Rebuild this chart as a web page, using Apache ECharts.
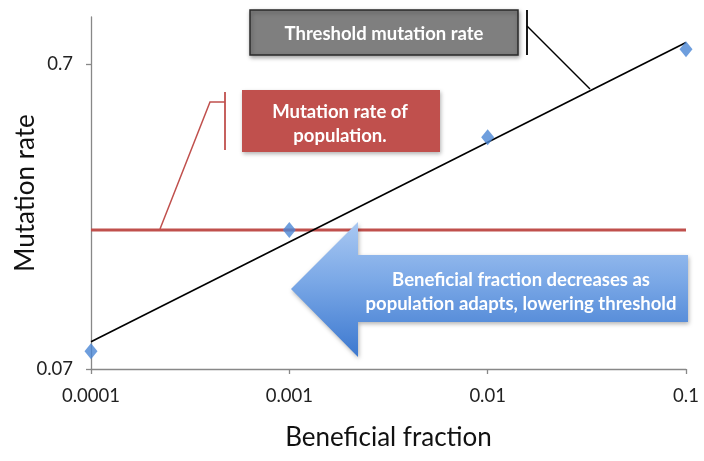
<!DOCTYPE html>
<html>
<head>
<meta charset="utf-8">
<script src="https://cdn.jsdelivr.net/npm/echarts@6/dist/echarts.min.js"></script>
<style>html,body{margin:0;padding:0;background:#fff}#c{width:704px;height:461px}</style>
</head>
<body>
<div id="c"></div>
<script>
// Data
var xTicks = [0.0001, 0.001, 0.01, 0.1];
var yTicks = [0.07, 0.7];
var beneficialFraction = [0.0001, 0.001, 0.01, 0.1];
var mutationRate = [0.080, 0.200, 0.403, 0.784];
var thresholdX = [0.0001, 0.1];
var thresholdY = [0.086, 0.825];
var populationRateX = [0.0001, 0.1];
var populationRateY = [0.2, 0.2];

var FONT = 'Lato';
function fmt(v){ return String(+(+v).toPrecision(6)); }
function pairs(xs, ys){ return xs.map(function(x,i){ return [x, ys[i]]; }); }

var chart = echarts.init(document.getElementById('c'));
chart.setOption({
  animation: false,
  backgroundColor: '#fff',
  grid: { left: 91, right: 18, top: 17, bottom: 92, containLabel: false, outerBoundsMode: 'none' },
  xAxis: {
    type: 'log', logBase: 10, min: 0.0001, max: 0.1,
    name: 'Beneficial fraction', nameLocation: 'middle', nameGap: 56, nameMoveOverlap: false,
    nameTextStyle: { fontFamily: FONT, fontSize: 26, color: '#111' },
    axisLine: { show: true, lineStyle: { color: '#888', width: 1.3 } },
    axisTick: { show: true, length: 5, lineStyle: { color: '#888', width: 1.3 }, customValues: xTicks },
    axisLabel: { margin: 18, fontFamily: FONT, fontSize: 18.5, color: '#222', formatter: fmt, customValues: xTicks },
    splitLine: { show: false }, minorTick: { show: false }
  },
  yAxis: {
    type: 'log', logBase: 10, min: 0.07, max: 1,
    name: 'Mutation rate', nameLocation: 'middle', nameGap: 52, nameMoveOverlap: false,
    nameTextStyle: { fontFamily: FONT, fontSize: 26, color: '#111' },
    axisLine: { show: true, lineStyle: { color: '#888', width: 1.3 } },
    axisTick: { show: true, length: 5, lineStyle: { color: '#888', width: 1.3 }, customValues: yTicks },
    axisLabel: { margin: 18, fontFamily: FONT, fontSize: 18.5, color: '#222', formatter: fmt, customValues: yTicks },
    splitLine: { show: false }, minorTick: { show: false }
  },
  series: [
    { type: 'line', data: pairs(populationRateX, populationRateY), symbol: 'none',
      lineStyle: { color: '#C0504D', width: 3 }, z: 2 },
    { type: 'line', data: pairs(thresholdX, thresholdY), symbol: 'none',
      lineStyle: { color: '#000', width: 1.6 }, z: 3 },
    { type: 'scatter', data: pairs(beneficialFraction, mutationRate), symbol: 'diamond', symbolSize: [13, 16],
      itemStyle: { color: '#4A86D4' }, z: 4 }
  ],
  graphic: [
    // Threshold box
    { type: 'rect', z: 100, shape: { x: 250, y: 10, width: 268, height: 45 },
      style: { fill: '#7F7F7F', stroke: '#2a2a2a', lineWidth: 1.5, shadowBlur: 4, shadowOffsetY: 2, shadowOffsetX: 1, shadowColor: 'rgba(0,0,0,0.35)' } },
    { type: 'text', z: 101, x: 384, y: 34, style: { text: 'Threshold mutation rate', fill: '#fff', font: 'bold 18.5px ' + FONT, align: 'center', verticalAlign: 'middle' } },
    { type: 'polyline', z: 100, shape: { points: [[527, 10], [527, 55]] }, style: { stroke: '#000', lineWidth: 1.8 } },
    { type: 'polyline', z: 100, shape: { points: [[527, 26], [590, 89]] }, style: { stroke: '#000', lineWidth: 1.5 } },
    // Population box
    { type: 'rect', z: 100, shape: { x: 242, y: 90, width: 198, height: 62 },
      style: { fill: '#C0504D', shadowBlur: 4, shadowOffsetY: 2, shadowOffsetX: 1, shadowColor: 'rgba(0,0,0,0.3)' } },
    { type: 'text', z: 101, x: 340, y: 112, style: { text: 'Mutation rate of', fill: '#fff', font: 'bold 18.5px ' + FONT, align: 'center', verticalAlign: 'middle' } },
    { type: 'text', z: 101, x: 340, y: 136, style: { text: 'population.', fill: '#fff', font: 'bold 18.5px ' + FONT, align: 'center', verticalAlign: 'middle' } },
    { type: 'polyline', z: 100, shape: { points: [[225, 92], [225, 150]] }, style: { stroke: '#C0504D', lineWidth: 1.8 } },
    { type: 'polyline', z: 100, shape: { points: [[225, 102], [210, 102], [160, 229]] }, style: { stroke: '#C0504D', lineWidth: 1.5 } },
    // Arrow
    { type: 'polygon', z: 100,
      shape: { points: [[291, 289], [358, 222], [358, 255], [688, 255], [688, 322], [358, 322], [358, 357]] },
      style: { fill: new echarts.graphic.LinearGradient(0, 0, 0, 1, [
          { offset: 0, color: '#A9C8F2' }, { offset: 0.45, color: '#79A7E6' }, { offset: 1, color: '#3C78CF' }]),
        shadowBlur: 4, shadowOffsetY: 2, shadowOffsetX: 1, shadowColor: 'rgba(0,0,0,0.3)' } },
    { type: 'text', z: 101, x: 521, y: 280, style: { text: 'Beneficial fraction decreases as', fill: '#fff', font: 'bold 18.5px ' + FONT, align: 'center', verticalAlign: 'middle' } },
    { type: 'text', z: 101, x: 521, y: 304, style: { text: 'population adapts, lowering threshold', fill: '#fff', font: 'bold 18.5px ' + FONT, align: 'center', verticalAlign: 'middle' } }
  ]
});
</script>
</body>
</html>
